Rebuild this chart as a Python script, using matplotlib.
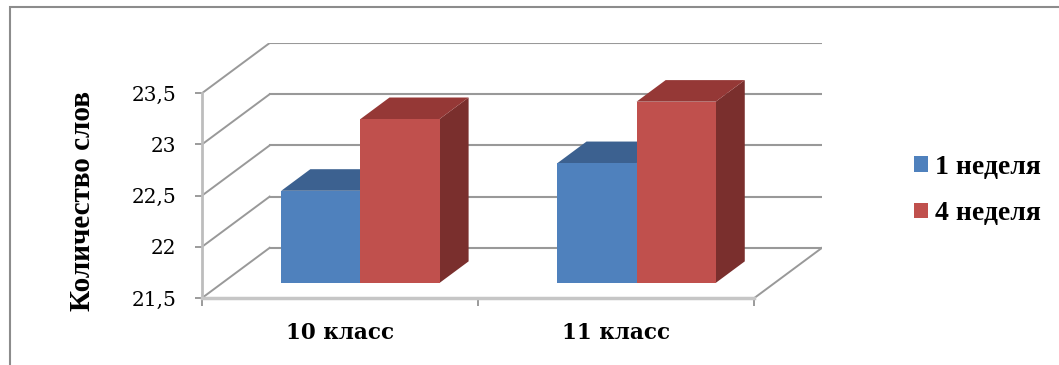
import matplotlib
matplotlib.use("Agg")
import matplotlib.pyplot as plt
from matplotlib.patches import Polygon, Patch, Rectangle

# data
categories = ["10 класс", "11 класс"]
series_names = ["1 неделя", "4 неделя"]
week1 = [22.4, 22.67]
week4 = [23.1, 23.27]
y_ticks = [21.5, 22, 22.5, 23, 23.5]
y_tick_labels = ["21,5", "22", "22,5", "23", "23,5"]

front_colors = ["#4F81BD", "#C0504D"]
top_colors = ["#3C6190", "#953836"]
side_colors = ["#35567F", "#7A2F2D"]

W, H = 1059, 365
fig = plt.figure(figsize=(W / 100, H / 100), dpi=100)
ax = fig.add_axes([202 / W, 67 / H, 620 / W, 255 / H])

base, top = 21.5, 23.5
DX, DY = 0.245, 0.49          # depth of the 3d box in data units
ax.set_xlim(-0.5, 1.5 + DX)
ax.set_ylim(base, top + DY)

grid = "#999999"
for v in y_ticks:
    # back wall and left wall lines
    ax.plot([-0.5 + DX, 1.5 + DX], [v + DY, v + DY], color=grid, lw=1.5, zorder=1)
    ax.plot([-0.5, -0.5 + DX], [v, v + DY], color=grid, lw=1.4, zorder=1)
ax.plot([1.5, 1.5 + DX], [base, base + DY], color=grid, lw=1.4, zorder=1)

# 3d bars
group = 0.573
bw = group / 2
d0, d1 = 0.3, 0.73
ox, oy = (d1 - d0) * DX, (d1 - d0) * DY
for i in range(len(categories)):
    for j, vals in enumerate([week1, week4]):
        v = vals[i]
        x0 = i - group / 2 + j * bw + d0 * DX
        x1 = x0 + bw
        y0 = base + d0 * DY
        y1 = v + d0 * DY
        side = [(x1, y0), (x1, y1), (x1 + ox, y1 + oy), (x1 + ox, y0 + oy)]
        roof = [(x0, y1), (x1, y1), (x1 + ox, y1 + oy), (x0 + ox, y1 + oy)]
        front = [(x0, y0), (x1, y0), (x1, y1), (x0, y1)]
        z = 3 + i * 3 + j
        ax.add_patch(Polygon(side, closed=True, facecolor=side_colors[j], edgecolor="none", zorder=z))
        ax.add_patch(Polygon(roof, closed=True, facecolor=top_colors[j], edgecolor="none", zorder=z))
        ax.add_patch(Polygon(front, closed=True, facecolor=front_colors[j], edgecolor="none", zorder=z))

# axes lines
for s in ["top", "right"]:
    ax.spines[s].set_visible(False)
ax.spines["left"].set_bounds(base, top)
ax.spines["left"].set_color("#bdbdbd")
ax.spines["left"].set_linewidth(2)
ax.spines["bottom"].set_bounds(-0.5, 1.5)
ax.spines["bottom"].set_color("#c6c6c6")
ax.spines["bottom"].set_linewidth(2.5)

ax.set_yticks(y_ticks, y_tick_labels)
ax.tick_params(axis="y", direction="out", length=5, width=1.2, color="#8a8a8a",
               pad=13.5, labelsize=14.5)
for t in ax.get_yticklabels():
    t.set_family("DejaVu Serif")

ax.set_xticks([-0.5, 0.5, 1.5], ["", "", ""])
ax.set_xticks([0, 1], categories, minor=True)
ax.tick_params(axis="x", which="major", direction="out", length=6, width=1.2, color="#8a8a8a")
ax.tick_params(axis="x", which="minor", length=0, pad=17, labelsize=15.5)
for t in ax.get_xticklabels(minor=True):
    t.set_family("DejaVu Serif")
    t.set_weight("bold")

ax.set_ylabel("Количество слов", family="Liberation Serif", weight="bold", fontsize=21)
ax.yaxis.label.set(ha="center", va="center", rotation_mode="anchor")
ax.yaxis.set_label_coords(-0.1935, 0.38)

handles = [Patch(facecolor=c, edgecolor="none") for c in front_colors]
fig.legend(handles, series_names, loc="center left", bbox_to_anchor=(914 / W, 174.5 / H),
           frameon=False, borderpad=0, borderaxespad=0, handlelength=0.5, handleheight=0.5,
           handletextpad=0.25, labelspacing=0.78,
           prop={"family": "Liberation Serif", "weight": "bold", "size": 20})

# chart border
fig.add_artist(Rectangle((9.5 / W, -0.1), 1.2, (H - 7) / H + 0.1, transform=fig.transFigure,
                         fill=False, edgecolor="#8c8c8c", lw=1.5))

fig.savefig("out.png", dpi=100)
